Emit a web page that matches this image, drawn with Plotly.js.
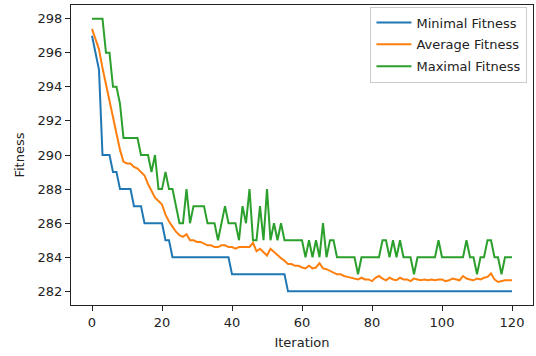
<!DOCTYPE html>
<html>
<head>
<meta charset="utf-8">
<script src="https://cdn.plot.ly/plotly-3.0.1.min.js"></script>
<style>html,body{margin:0;padding:0;background:#fff;}#chart{width:536px;height:356px;}</style>
</head>
<body>
<div id="chart"></div>
<script>
// Minimal fitness per iteration (0..120)
const minimalFitness = [
  297,296,295,290,290,290,289,289,288,288,
  288,288,287,287,287,286,286,286,286,286,
  286,285,285,284,284,284,284,284,284,284,
  284,284,284,284,284,284,284,284,284,284,
  283,283,283,283,283,283,283,283,283,283,
  283,283,283,283,283,283,282,282,282,282,
  282,282,282,282,282,282,282,282,282,282,
  282,282,282,282,282,282,282,282,282,282,
  282,282,282,282,282,282,282,282,282,282,
  282,282,282,282,282,282,282,282,282,282,
  282,282,282,282,282,282,282,282,282,282,
  282,282,282,282,282,282,282,282,282,282,
  282
];
// Average fitness per iteration
const averageFitness = [
  297.4,296.8,296.2,295.1,294.1,293.1,292.3,291.3,290.3,289.6,
  289.5,289.5,289.3,289.2,289.0,288.8,288.3,287.9,287.5,287.3,
  287.1,286.5,286.1,285.8,285.5,285.3,285.2,285.35,285.0,285.0,
  284.9,284.9,284.8,284.7,284.7,284.6,284.6,284.7,284.7,284.6,
  284.6,284.5,284.6,284.6,284.6,284.6,284.85,284.35,284.5,284.3,
  284.1,284.5,284.3,284.15,283.95,283.8,283.6,283.6,283.5,283.5,
  283.4,283.35,283.5,283.35,283.4,283.65,283.35,283.3,283.2,283.1,
  283.0,283.0,282.9,282.85,282.8,282.75,282.7,282.8,282.7,282.7,
  282.6,282.8,282.9,282.75,282.65,282.8,282.7,282.65,282.8,282.7,
  282.7,282.6,282.75,282.7,282.65,282.7,282.65,282.7,282.65,282.7,
  282.7,282.6,282.65,282.75,282.7,282.65,282.9,282.75,282.7,282.65,
  282.75,282.7,282.8,282.85,283.05,282.7,282.55,282.6,282.65,282.65,
  282.65
];
// Maximal fitness per iteration
const maximalFitness = [
  298,298,298,298,296,296,294,294,293,291,
  291,291,291,291,290,290,290,289,290,288,
  288,289,288,288,287,286,286,288,286,287,
  287,287,287,286,286,286,285,286,287,286,
  286,286,285,287,286,288,285,285,287,285,
  288,285,286,285,286,285,285,285,285,285,
  285,284,285,284,285,284,286,284,285,285,
  284,284,284,284,284,284,283,284,284,284,
  284,284,284,285,285,284,285,284,285,284,
  284,284,283,284,284,284,284,284,284,285,
  284,284,284,284,284,284,284,285,284,284,
  283,284,284,285,285,284,284,283,284,284,
  284
];
const seriesNames = ['Minimal Fitness','Average Fitness','Maximal Fitness'];
const seriesColors = ['#1f77b4','#ff7f0e','#2ca02c'];
const xTicks = [0,20,40,60,80,100,120];
const yTicks = [282,284,286,288,290,292,294,296,298];

const font = {family:'DejaVu Sans, sans-serif', size:13, color:'#222'};
const data = [minimalFitness, averageFitness, maximalFitness].map((vals, k) => ({
  y: vals, x0: 0, dx: 1, type: 'scatter', mode: 'lines', name: seriesNames[k],
  legendgroup: 'g' + k,
  line: {color: seriesColors[k], width: 2}
}));

const axisCommon = {
  showline: true, linecolor: '#222', linewidth: 1, mirror: true,
  ticks: 'outside', ticklen: 5, tickwidth: 1, tickcolor: '#222',
  showgrid: false, zeroline: false, tickfont: font
};

const layout = {
  width: 536, height: 356,
  margin: {l: 71, r: 3, t: 5, b: 51, pad: 0},
  paper_bgcolor: '#fff', plot_bgcolor: '#fff',
  font: font,
  showlegend: true,
  legend: {x: 0.988, xanchor: 'right', y: 0.995, yanchor: 'top',
           traceorder: 'grouped', tracegroupgap: 2, itemwidth: 35,
           bgcolor: 'rgba(255,255,255,0.8)', bordercolor: '#cccccc', borderwidth: 1,
           font: font},
  xaxis: Object.assign({}, axisCommon, {
    range: [-6, 126], tickvals: xTicks, ticktext: xTicks.map(String),
    title: {text: 'Iteration', font: font, standoff: 9}
  }),
  yaxis: Object.assign({}, axisCommon, {
    range: [281.2, 298.8], tickvals: yTicks, ticktext: yTicks.map(String),
    title: {text: 'Fitness', font: font, standoff: 10}
  })
};

Plotly.newPlot('chart', data, layout, {staticPlot: true, displayModeBar: false});
</script>
</body>
</html>
